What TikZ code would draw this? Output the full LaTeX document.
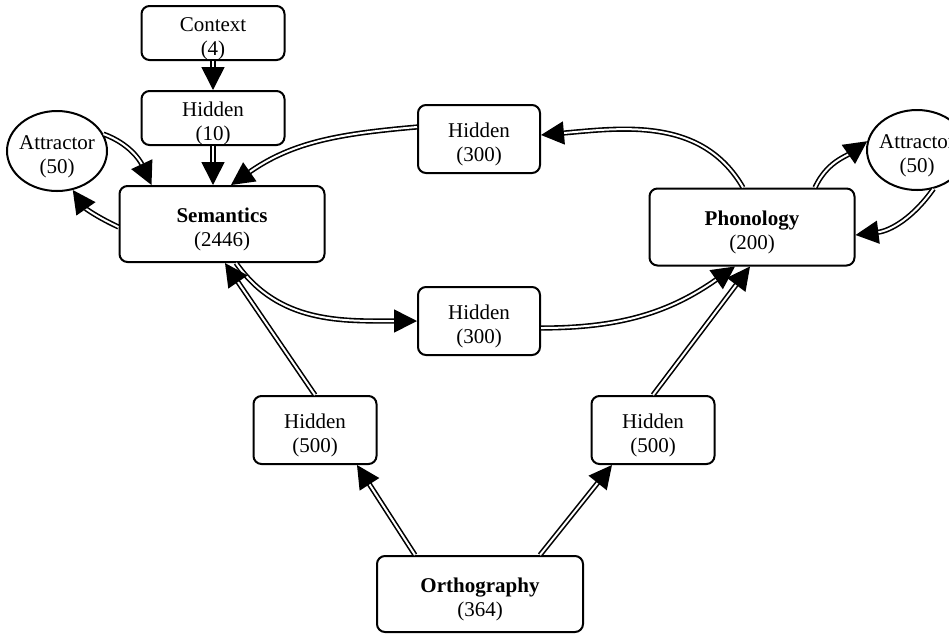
\documentclass[tikz,border=0pt]{standalone}
\usepackage{fontspec}
\setmainfont{Liberation Serif}
\usetikzlibrary{arrows.meta,shapes.geometric}

\begin{document}
\begin{tikzpicture}
          [x=0.5pt,y=-0.5pt,
           every node/.style={font=\fontsize{10.5}{12}\selectfont,align=center},
           txt/.style={align=center,yshift=-2.75pt},
           unit/.style={draw,rounded corners=4pt,line width=1pt,inner sep=0pt},
           attractor/.style={draw,ellipse,line width=1pt,inner sep=0pt,minimum width=50pt,minimum height=40pt},
           conn/.style={draw,double,double distance=1pt,line width=0.8pt,-{Triangle[length=11.5pt,width=11.5pt]}}]

          \clip (0,0) rectangle (949,634);

          \node[unit,minimum width=71.5pt,minimum height=27pt,label={[txt]center:Context\\(4)}] (context) at (213,33) {};
          \node[unit,minimum width=71.5pt,minimum height=27pt,label={[txt]center:Hidden\\(10)}] (hid10) at (213,118) {};
          \node[attractor,label={[txt]center:Attractor\\(50)}] (attrL) at (57,151) {};
          \node[unit,minimum width=102.5pt,minimum height=38pt,label={[txt]center:\textbf{Semantics}\\(2446)}] (sem) at (222,224) {};
          \node[unit,minimum width=61pt,minimum height=34pt,label={[txt]center:Hidden\\(300)}] (hid3a) at (479,139) {};
          \node[unit,minimum width=61pt,minimum height=34pt,label={[txt]center:Hidden\\(300)}] (hid3b) at (479,321) {};
          \node[unit,minimum width=102.5pt,minimum height=38.5pt,label={[txt]center:\textbf{Phonology}\\(200)}] (phon) at (752,227) {};
          \node[attractor,label={[txt]center:Attractor\\(50)}] (attrR) at (917,150) {};
          \node[unit,minimum width=61.5pt,minimum height=34pt,label={[txt]center:Hidden\\(500)}] (hid5l) at (315,430) {};
          \node[unit,minimum width=61.5pt,minimum height=34pt,label={[txt]center:Hidden\\(500)}] (hid5r) at (653,430) {};
          \node[unit,minimum width=103pt,minimum height=38pt,label={[txt]center:\textbf{Orthography}\\(364)}] (ortho) at (480,594) {};

          \draw[conn] (context) -- (hid10);
          \draw[conn] (hid10) -- (hid10 |- sem.north);
          \draw[conn] (attrL.20) to[out=-20,in=115] ([xshift=16.5pt]sem.north west);
          \draw[conn] ([yshift=-1.5pt]sem.west) to[out=155,in=-55] (attrL.-68);
          \draw[conn] ([xshift=-4.5pt]phon.north) to[out=120,in=5] ([yshift=2pt]hid3a.east);
          \draw[conn] ([yshift=6pt]hid3a.west) to[out=185,in=35] ([xshift=4.5pt]sem.north);
          \draw[conn] ([xshift=7pt]sem.south) to[out=-55,in=180] (hid3b.west);
          \draw[conn] ([yshift=-3.5pt]hid3b.east) to[out=0,in=-145] ([xshift=-8.5pt]phon.south);
          \draw[conn] (hid5r.north) -- ([xshift=-1pt]phon.south);
          \draw[conn] (hid5l.north) -- ([xshift=1.5pt]sem.south);
          \draw[conn] ([xshift=-32.5pt]ortho.north) -- ([xshift=21pt]hid5l.south);
          \draw[conn] ([xshift=30pt]ortho.north) -- ([xshift=-20.5pt]hid5r.south);
          \draw[conn] ([xshift=31.5pt]phon.north) to[out=65,in=215] (attrR.170);
          \draw[conn] (attrR.-67) to[out=-125,in=7] ([yshift=-4pt]phon.east);
        \end{tikzpicture}
\end{document}
